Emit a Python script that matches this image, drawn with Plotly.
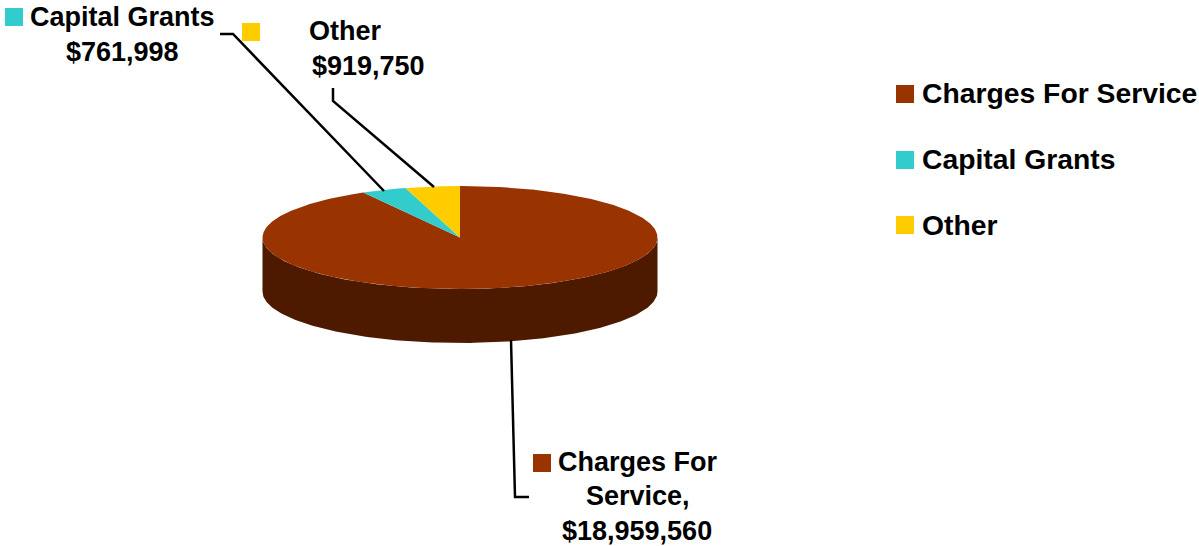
import numpy as np
import plotly.graph_objects as go

categories = ["Charges For Service", "Capital Grants", "Other"]
values = [18959560, 761998, 919750]
colors = ["#993300", "#33CCCC", "#FFCC00"]
side_color = "#4D1A00"
value_labels = ["$18,959,560", "$761,998", "$919,750"]

W, H = 1199, 546
CX, CY, RX, RY, DEPTH = 460, 237.5, 197.5, 51.5, 54
FONT = "Liberation Sans"
SIZE = 27
LEGEND_SIZE = 28.3


def ell(deg, dy=0.0):
    a = np.radians(deg)
    return CX + RX * np.sin(a), CY + RY * -np.cos(a) + dy


fig = go.Figure()

# side wall (visible front half)
t = np.linspace(90, 270, 181)
xt, yt = ell(t)
xb, yb = ell(t[::-1], DEPTH)
fig.add_trace(go.Scatter(x=np.r_[xt, xb], y=np.r_[yt, yb], mode="lines", fill="toself",
                         fillcolor=side_color, line=dict(width=0), hoverinfo="skip"))

# top wedges
total = sum(values)
start = 0.0
for name, v, c in zip(categories, values, colors):
    end = start + 360.0 * v / total
    t = np.linspace(start, end, max(int(end - start) * 2, 8))
    x, y = ell(t)
    fig.add_trace(go.Scatter(x=np.r_[CX, x, CX], y=np.r_[CY, y, CY], mode="lines", fill="toself",
                             fillcolor=c, line=dict(width=0), name=name, hoverinfo="name"))
    start = end

# leader lines
leaders = [
    ([511, 515, 529], [340, 497, 497]),
    ([220, 233, 384], [34, 34, 191]),
    ([333, 333, 434], [88, 101, 187]),
]
for lx, ly in leaders:
    fig.add_trace(go.Scatter(x=lx, y=ly, mode="lines", line=dict(color="black", width=2.5), hoverinfo="skip"))

# colour keys: legend then data labels
key_x = [905, 905, 905, 542, 14, 251]
key_y = [94, 160, 225, 463, 17, 32]
key_c = [colors[0], colors[1], colors[2], colors[0], colors[1], colors[2]]
fig.add_trace(go.Scatter(x=key_x, y=key_y, mode="markers", hoverinfo="skip",
                         marker=dict(symbol="square", size=18, color=key_c, line=dict(width=0))))


def label(x, y, text, anchor="left", size=SIZE):
    fig.add_annotation(x=x, y=y, text=text, showarrow=False, xanchor=anchor, yanchor="middle",
                       xref="x", yref="y", align="center",
                       font=dict(family=FONT, size=size, color="black", weight="bold"))


for i, name in enumerate(categories):
    label(920, [93, 159, 225][i], name, size=LEGEND_SIZE)
label(122, 17, categories[1], "center")
label(122, 52, value_labels[1], "center")
label(345, 31, categories[2], "center")
label(368, 66, value_labels[2], "center")
label(637.5, 462, "Charges For", "center")
label(637.5, 496, "Service,", "center")
label(637, 531, value_labels[0], "center")

fig.update_layout(
    width=W, height=H, margin=dict(l=0, r=0, t=0, b=0), showlegend=False,
    paper_bgcolor="white", plot_bgcolor="white",
    xaxis=dict(range=[0, W], visible=False, fixedrange=True),
    yaxis=dict(range=[H, 0], visible=False, fixedrange=True),
)
fig.write_html("out.html", config={"displayModeBar": False},
               post_script="document.body.style.margin='0';")
